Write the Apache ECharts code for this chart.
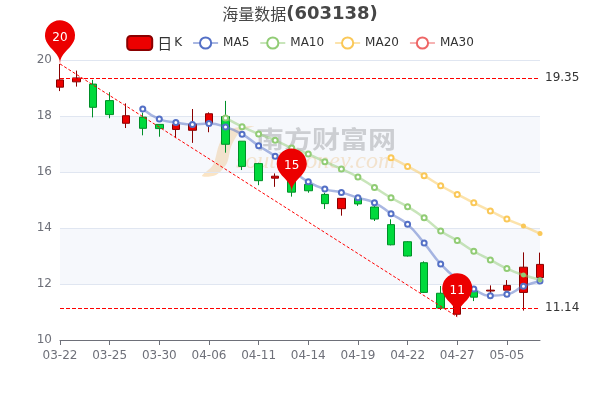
<!DOCTYPE html>
<html><head><meta charset="utf-8">
<style>html,body{margin:0;padding:0;background:#fff}#c{width:600px;height:400px}</style>
<script src="https://cdn.jsdelivr.net/npm/echarts@6/dist/echarts.min.js"></script>
</head><body><div id="c"></div>
<script>
const dates=['03-22','03-23','03-24','03-25','03-28','03-29','03-30','03-31','04-01','04-06','04-07','04-08','04-11','04-12','04-13','04-14','04-15','04-18','04-19','04-20','04-21','04-22','04-25','04-26','04-27','04-28','04-29','05-05','05-06','05-09'];
const opens =[19.03,19.22,19.14,18.55,17.74,17.96,17.70,17.52,17.49,17.74,17.98,17.10,16.30,15.78,15.75,15.56,15.20,14.69,15.06,14.75,14.12,13.51,12.76,11.67,10.92,11.75,11.75,11.78,11.70,12.23];
const closes=[19.29,19.36,18.31,18.05,18.01,17.56,17.55,17.70,17.71,18.08,16.99,16.20,15.69,15.85,15.28,15.33,14.87,15.06,14.86,14.32,13.40,13.00,11.70,11.14,11.60,11.53,11.78,11.95,12.60,12.70];
const lows  =[18.89,19.05,17.95,17.92,17.57,17.31,17.26,17.21,17.04,17.42,16.69,16.07,15.53,15.47,15.12,15.26,14.68,14.44,14.79,14.25,13.38,12.98,11.68,11.07,10.83,11.39,11.64,11.78,11.05,12.20];
const highs =[19.86,19.62,19.29,18.85,18.45,18.12,17.70,17.70,18.25,18.13,18.54,17.10,16.33,15.95,15.85,15.60,15.26,15.06,15.10,14.95,14.31,13.53,12.81,11.93,11.95,11.90,11.95,12.14,13.13,13.12];
const ma5 =[null,null,null,null,null,18.25,17.89,17.77,17.70,17.73,17.61,17.35,16.94,16.56,16.07,15.65,15.39,15.27,15.08,14.90,14.51,14.13,13.46,12.71,12.18,11.82,11.58,11.63,11.92,12.11];
const ma10=[null,null,null,null,null,null,null,null,null,null,17.93,17.62,17.36,17.13,16.86,16.64,16.37,16.11,15.82,15.45,15.08,14.76,14.37,13.89,13.55,13.17,12.86,12.55,12.32,12.15];
const ma20=[null,null,null,null,null,null,null,null,null,null,null,null,null,null,null,null,null,null,null,null,16.51,16.20,15.87,15.51,15.20,14.90,14.61,14.32,14.07,13.80];
const ma30=dates.map(()=>null);
const levels=[19.35,11.14];
const title='海量数据', code='(603138)';
const pins=[[0,19.86,20],[14,15.28,15],[24,10.83,11]];
const ink='#6e7079';
const ohlc=dates.map((d,i)=>[opens[i],closes[i],lows[i],highs[i]]);
const maSeries=(name,data,color,solidFrom)=>({name,type:'line',smooth:true,symbol:'emptyCircle',symbolSize:5,showSymbol:true,
  data:data.map((v,i)=>i>=solidFrom?{value:v,symbol:'circle'}:v),
  itemStyle:{color},lineStyle:{color,width:2.5,opacity:0.5},z:3});
const chart=echarts.init(document.getElementById('c'),null,{renderer:'canvas'});
chart.setOption({
  animation:false,
  color:['#5470c6','#91cc75','#fac858','#ee6666'],
  textStyle:{fontFamily:'"DejaVu Sans","Noto Sans CJK SC",sans-serif'},
  title:{text:'{a|'+title+'}{b|'+code+'}',left:'center',top:0,textStyle:{rich:{
    a:{fontSize:16,fontWeight:'normal',color:'#464646',fontFamily:'"Noto Sans CJK SC",sans-serif'},
    b:{fontSize:18,fontWeight:'bold',color:'#464646',fontFamily:'"DejaVu Sans",sans-serif'}}}},
  legend:{top:30,left:'center',itemGap:10,
    textStyle:{color:'#333',fontSize:12,rich:{big:{fontSize:15,color:'#333',fontFamily:'"Noto Sans CJK SC",sans-serif'},sm:{fontSize:12,color:'#333',padding:[0,0,0,2]}}},
    formatter:n=>n==='日K'?'{big|日}{sm|K}':n,
    data:['日K','MA5','MA10','MA20','MA30']},
  grid:{left:60,right:60,top:60,bottom:60},
  xAxis:{type:'category',data:dates,boundaryGap:false,
    axisLine:{lineStyle:{color:ink}},axisTick:{show:true,interval:2,alignWithLabel:true},
    axisLabel:{color:ink,fontSize:12,interval:2,margin:10},splitLine:{show:false}},
  yAxis:{type:'value',min:10,max:20,interval:2,axisLine:{show:false},axisTick:{show:false},
    axisLabel:{color:ink,fontSize:12,padding:[2,0,0,0]},splitLine:{lineStyle:{color:'#e0e6f1'}},
    splitArea:{show:true,areaStyle:{color:['rgba(255,255,255,0)','rgba(210,219,238,0.2)']}}},
  graphic:[
    {type:'polygon',silent:true,z:0,shape:{smooth:0.3,points:[[202,176],[213,165],[219,145],[228,130],[254,126],[240,132],[231,147],[227,163],[216,175]]},style:{fill:'rgba(245,205,150,0.55)'}},
    {type:'text',silent:true,z:0,left:256,top:127,scaleY:0.85,style:{text:'南方财富网',font:'bold 28px "Noto Sans CJK SC"',fill:'rgba(150,150,150,0.5)'}},
    {type:'text',silent:true,z:0,left:236,top:150,style:{text:'southmoney.com',font:'italic 24px "Liberation Serif"',fill:'rgba(245,205,150,0.55)'}}
  ],
  series:[
    {name:'日K',type:'candlestick',data:ohlc,barWidth:8,z:2,
      itemStyle:{color:'#ec0000',color0:'#00da3c',borderColor:'#8a0000',borderColor0:'#008f28',borderWidth:1},
      markPoint:{symbol:'pin',symbolSize:50,itemStyle:{color:'#ec0000'},
        label:{color:'#fff',fontSize:12,formatter:p=>p.value},
        data:pins.map(p=>({coord:[dates[p[0]],p[1]],value:p[2]}))},
      markLine:{silent:true,symbol:'none',animation:false,
        data:[
          ...levels.map(v=>({yAxis:v,lineStyle:{color:'#f00',type:[4,2],width:1},label:{show:true,position:'end',formatter:String(v),color:'#333',fontSize:12,padding:[2,0,0,0]}})),
          [{coord:[dates[0],highs[0]],lineStyle:{color:'#f00',type:[3,2],width:1},label:{show:false}},{coord:[dates[24],lows[24]]}]
        ]}},
    maSeries('MA5',ma5,'#5470c6',99),
    maSeries('MA10',ma10,'#91cc75',28),
    maSeries('MA20',ma20,'#fac858',28),
    maSeries('MA30',ma30,'#ee6666',99)
  ]
});
</script></body></html>
